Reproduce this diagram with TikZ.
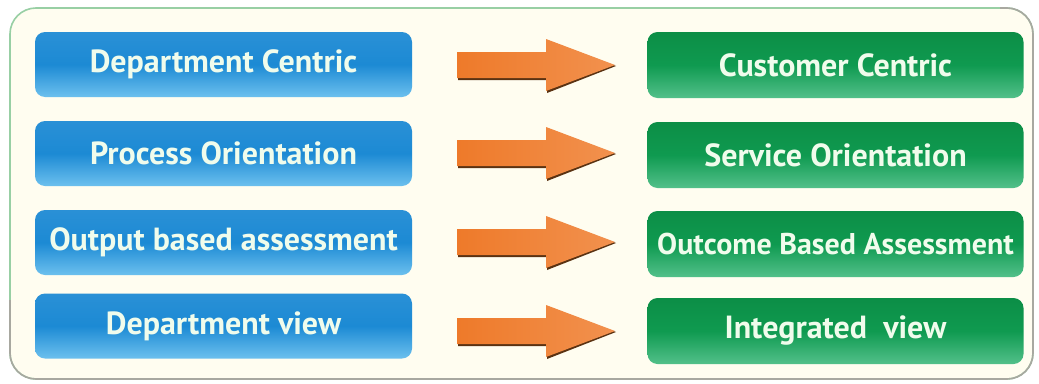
\documentclass[tikz,border=0pt]{standalone}
\usepackage{fontspec}
\setmainfont{PT Sans}
\begin{document}
\begin{tikzpicture}[x=1pt,y=-1pt,
  bluebox/.style={rounded corners=10pt, minimum width=377pt, minimum height=65pt,
    top color=bluetop, bottom color=bluebot, middle color=bluemid, draw=none,
    text=boxtext, font=\fontsize{32}{34}\selectfont\bfseries, inner sep=0pt},
  greenbox/.style={rounded corners=10pt, minimum width=376pt, minimum height=66pt,
    top color=greentop, bottom color=greenbot, middle color=greenmid, draw=none,
    text=boxtext, font=\fontsize{32}{34}\selectfont\bfseries, inner sep=0pt},
  fatarrow/.style={left color=arrowleft, right color=arrowright, draw=none},
  arrowshadow/.style={fill=arrowshade, draw=none}]
\definecolor{bluetop}{HTML}{2A90D6}
\definecolor{bluemid}{HTML}{1C8AD4}
\definecolor{bluebot}{HTML}{6CC0EE}
\definecolor{greentop}{HTML}{0C8E46}
\definecolor{greenmid}{HTML}{0F9A50}
\definecolor{greenbot}{HTML}{52C08A}
\definecolor{boxtext}{HTML}{F0FCEC}
\definecolor{arrowleft}{HTML}{EE7A2A}
\definecolor{arrowright}{HTML}{F2914E}
\definecolor{arrowshade}{HTML}{5A3212}
\definecolor{cream}{HTML}{FFFDF0}
\definecolor{framegreen}{HTML}{98CFA4}
\definecolor{framegrey}{HTML}{A8A8A0}

\useasboundingbox (0,0) rectangle (1039,383);
\fill[white] (0,0) rectangle (1039,383);
\path[fill=cream, draw=framegreen, line width=1.6pt, rounded corners=26pt] (10,8) rectangle (1033,379);
\draw[framegrey, line width=1.6pt, rounded corners=26pt] (10,300) -- (10,379) -- (1033,379) -- (1033,8) -- (1000,8);

% left boxes
\node[bluebox] (b1) at (223.5,64.5) {Department Centric};
\node[bluebox] (b2) at (223.5,153.5) {Process Orientation};
\node[bluebox] (b3) at (223.5,242.5) {Output based assessment};
\node[bluebox] (b4) at (223.5,326) {Department view};

% right boxes
\node[greenbox] (g1) at (835.5,65) {Customer Centric};
\node[greenbox] (g2) at (835.5,155) {Service Orientation};
\node[greenbox, font=\fontsize{30}{32}\selectfont\bfseries] (g3) at (835.5,244) {Outcome Based Assessment};
\node[greenbox] (g4) at (835.5,331) {Integrated\ \ view};

% arrows
\coordinate (a1) at (457,65);
\coordinate (a2) at (457,153);
\coordinate (a3) at (457,242);
\coordinate (a4) at (457,331);
\foreach \a in {a1,a2,a3,a4}{
  \path[arrowshadow, shift={(\a)}] (1,-12) -- (90,-12) -- (90,-25) -- (159,1) -- (90,28) -- (90,15) -- (1,15) -- cycle;
  \path[fatarrow, shift={(\a)}] (0,-13) -- (89,-13) -- (89,-26) -- (158,0) -- (89,26) -- (89,13) -- (0,13) -- cycle;
}
\end{tikzpicture}
\end{document}
